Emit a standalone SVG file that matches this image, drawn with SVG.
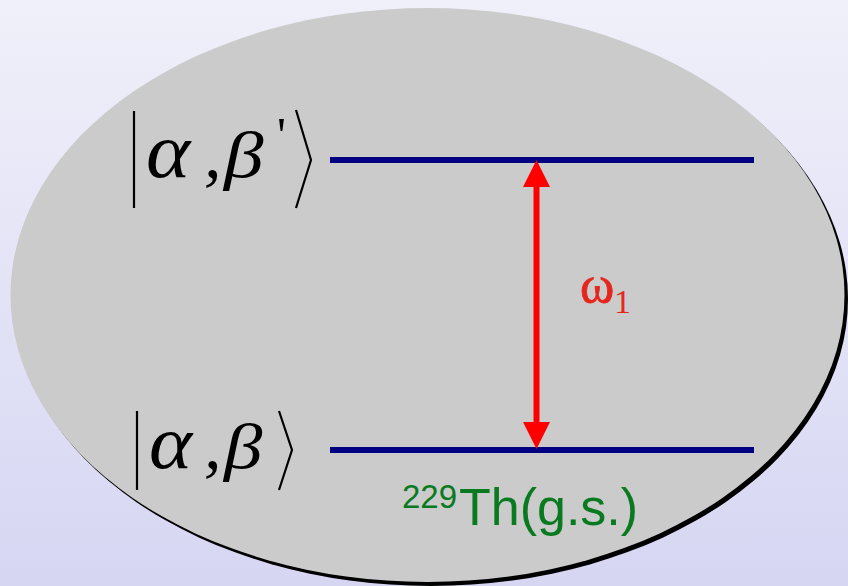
<svg xmlns="http://www.w3.org/2000/svg" width="848" height="586" viewBox="0 0 848 586">
<defs>
<linearGradient id="bg" x1="0" y1="0" x2="0" y2="1">
<stop offset="0" stop-color="#F0F0FA"/>
<stop offset="1" stop-color="#D6D6F3"/>
</linearGradient>
<style>
.ket{font-family:"Liberation Serif","Times New Roman",serif;font-style:italic;fill:#000}
.delim{fill:none;stroke:#000;stroke-width:2.2}
.level{stroke:#000080;stroke-width:6}
.arrow{fill:#FF0000}
</style>
</defs>
<rect width="848" height="586" fill="url(#bg)"/>
<g id="ellipse">
<ellipse cx="431" cy="299" rx="417" ry="287" fill="#000"/>
<ellipse cx="427.5" cy="295" rx="417" ry="287" fill="#CBCBCB"/>
</g>
<g id="state-upper">
<line class="level" x1="330" y1="160" x2="754" y2="160"/>
<path class="delim" d="M134 111V208M296 110L311 160L296 208"/>
<text class="ket" transform="translate(146 177) scale(1.08 1)" font-size="78">α</text>
<text class="ket" x="204" y="177" font-size="70">,</text>
<text class="ket" transform="translate(224 177) scale(1.2 1)" font-size="66">β</text>
<text x="277" y="152" font-family="Liberation Serif, Times New Roman, serif" font-size="50">'</text>
</g>
<g id="state-lower">
<line class="level" x1="330" y1="450" x2="754" y2="450"/>
<path class="delim" d="M137 411V490M279 411L292 450L279 490"/>
<text class="ket" transform="translate(149 468) scale(1.08 1)" font-size="76">α</text>
<text class="ket" x="204" y="468" font-size="70">,</text>
<text class="ket" transform="translate(224 468) scale(1.2 1)" font-size="64">β</text>
<text x="402" y="508" font-family="Liberation Sans, Arial, sans-serif" font-size="33" fill="#0A7A20">229</text>
<text x="459" y="525" font-family="Liberation Sans, Arial, sans-serif" font-size="52" fill="#0A7A20">Th(g.s.)</text>
</g>
<g id="connectors">
<line x1="536.5" y1="184" x2="536.5" y2="426" stroke="#FF0000" stroke-width="6"/>
<polygon class="arrow" points="536.5,160 523,187 550,187"/>
<polygon class="arrow" points="536.5,449 523,422 550,422"/>
<text x="580" y="302" font-family="Liberation Serif, Times New Roman, serif" font-size="52" fill="#E5261C" stroke="#E5261C" stroke-width="0.8">ω</text>
<text x="614" y="313" font-family="Liberation Serif, Times New Roman, serif" font-size="34" fill="#E5261C">1</text>
</g>
</svg>
